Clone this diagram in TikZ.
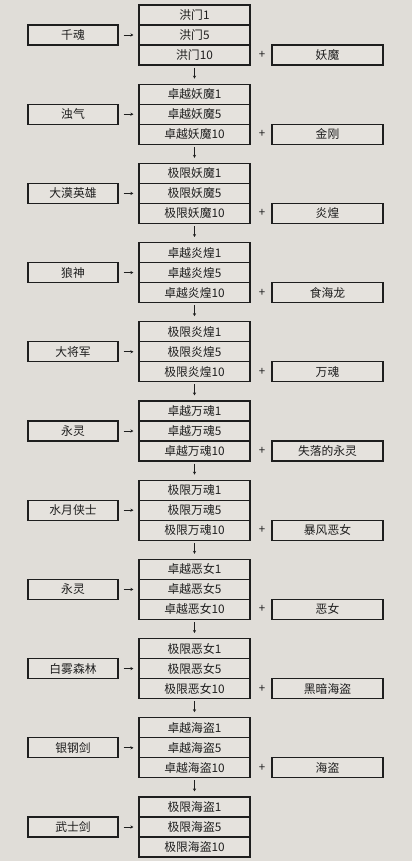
\documentclass[tikz,border=0pt]{standalone}
\usepackage{fontspec}
\setmainfont{Noto Sans CJK SC}
\usetikzlibrary{arrows.meta}
\definecolor{bg}{HTML}{E0DDD8}
\definecolor{boxfill}{HTML}{E5E2DD}
\definecolor{ink}{HTML}{1E1E1E}
\begin{document}
\begin{tikzpicture}[x=1pt,y=-1pt,
  box/.style={draw=ink, line width=1.2pt, fill=boxfill, minimum height=20pt, inner sep=0pt, text=ink, font=\fontsize{11.8}{13}\selectfont},
  lbox/.style={box, minimum width=90pt},
  mbox/.style={box, minimum width=111pt},
  plus/.style={text=ink, font=\fontsize{11.5}{13}\selectfont, inner sep=0pt},
  conn/.style={-{Stealth[length=3pt,width=3.2pt]}, draw=ink, line width=0.7pt}]
\fill[bg] (0,0) rectangle (412,861);
\useasboundingbox (0,0) rectangle (412,861);
\foreach \i/\la/\mb in {1/千魂/洪门, 2/浊气/卓越妖魔, 3/大漠英雄/极限妖魔, 4/狼神/卓越炎煌, 5/大将军/极限炎煌, 6/永灵/卓越万魂, 7/水月侠士/极限万魂, 8/永灵/卓越恶女, 9/白雾森林/极限恶女, 10/银钢剑/卓越海盗, 11/武士剑/极限海盗} {
  \pgfmathsetmacro{\yy}{5+79.2*(\i-1)}
  \node[lbox] (L\i) at (73,\yy+30) {\la};
  \node[mbox] (A\i) at (194.5,\yy+10) {\mb 1};
  \node[mbox] (B\i) at (194.5,\yy+30) {\mb 5};
  \node[mbox] (C\i) at (194.5,\yy+50) {\mb 10};
  \draw[conn, shorten <=5pt, shorten >=5pt] (L\i.east) -- (B\i.west);
}
\foreach \i/\rc in {1/妖魔, 2/金刚, 3/炎煌, 4/食海龙, 5/万魂, 6/失落的永灵, 7/暴风恶女, 8/恶女, 9/黑暗海盗, 10/海盗} {
  \pgfmathsetmacro{\yy}{5+79.2*(\i-1)}
  \node[mbox] (R\i) at (327.5,\yy+50) {\rc};
  \node[plus] (P\i) at (262,\yy+50) {+};
}
\foreach \i [evaluate=\i as \j using int(\i+1)] in {1,...,10} {
  \draw[conn, shorten <=2pt, shorten >=5pt] (C\i.south) -- (A\j.north);
}
\end{tikzpicture}
\end{document}
